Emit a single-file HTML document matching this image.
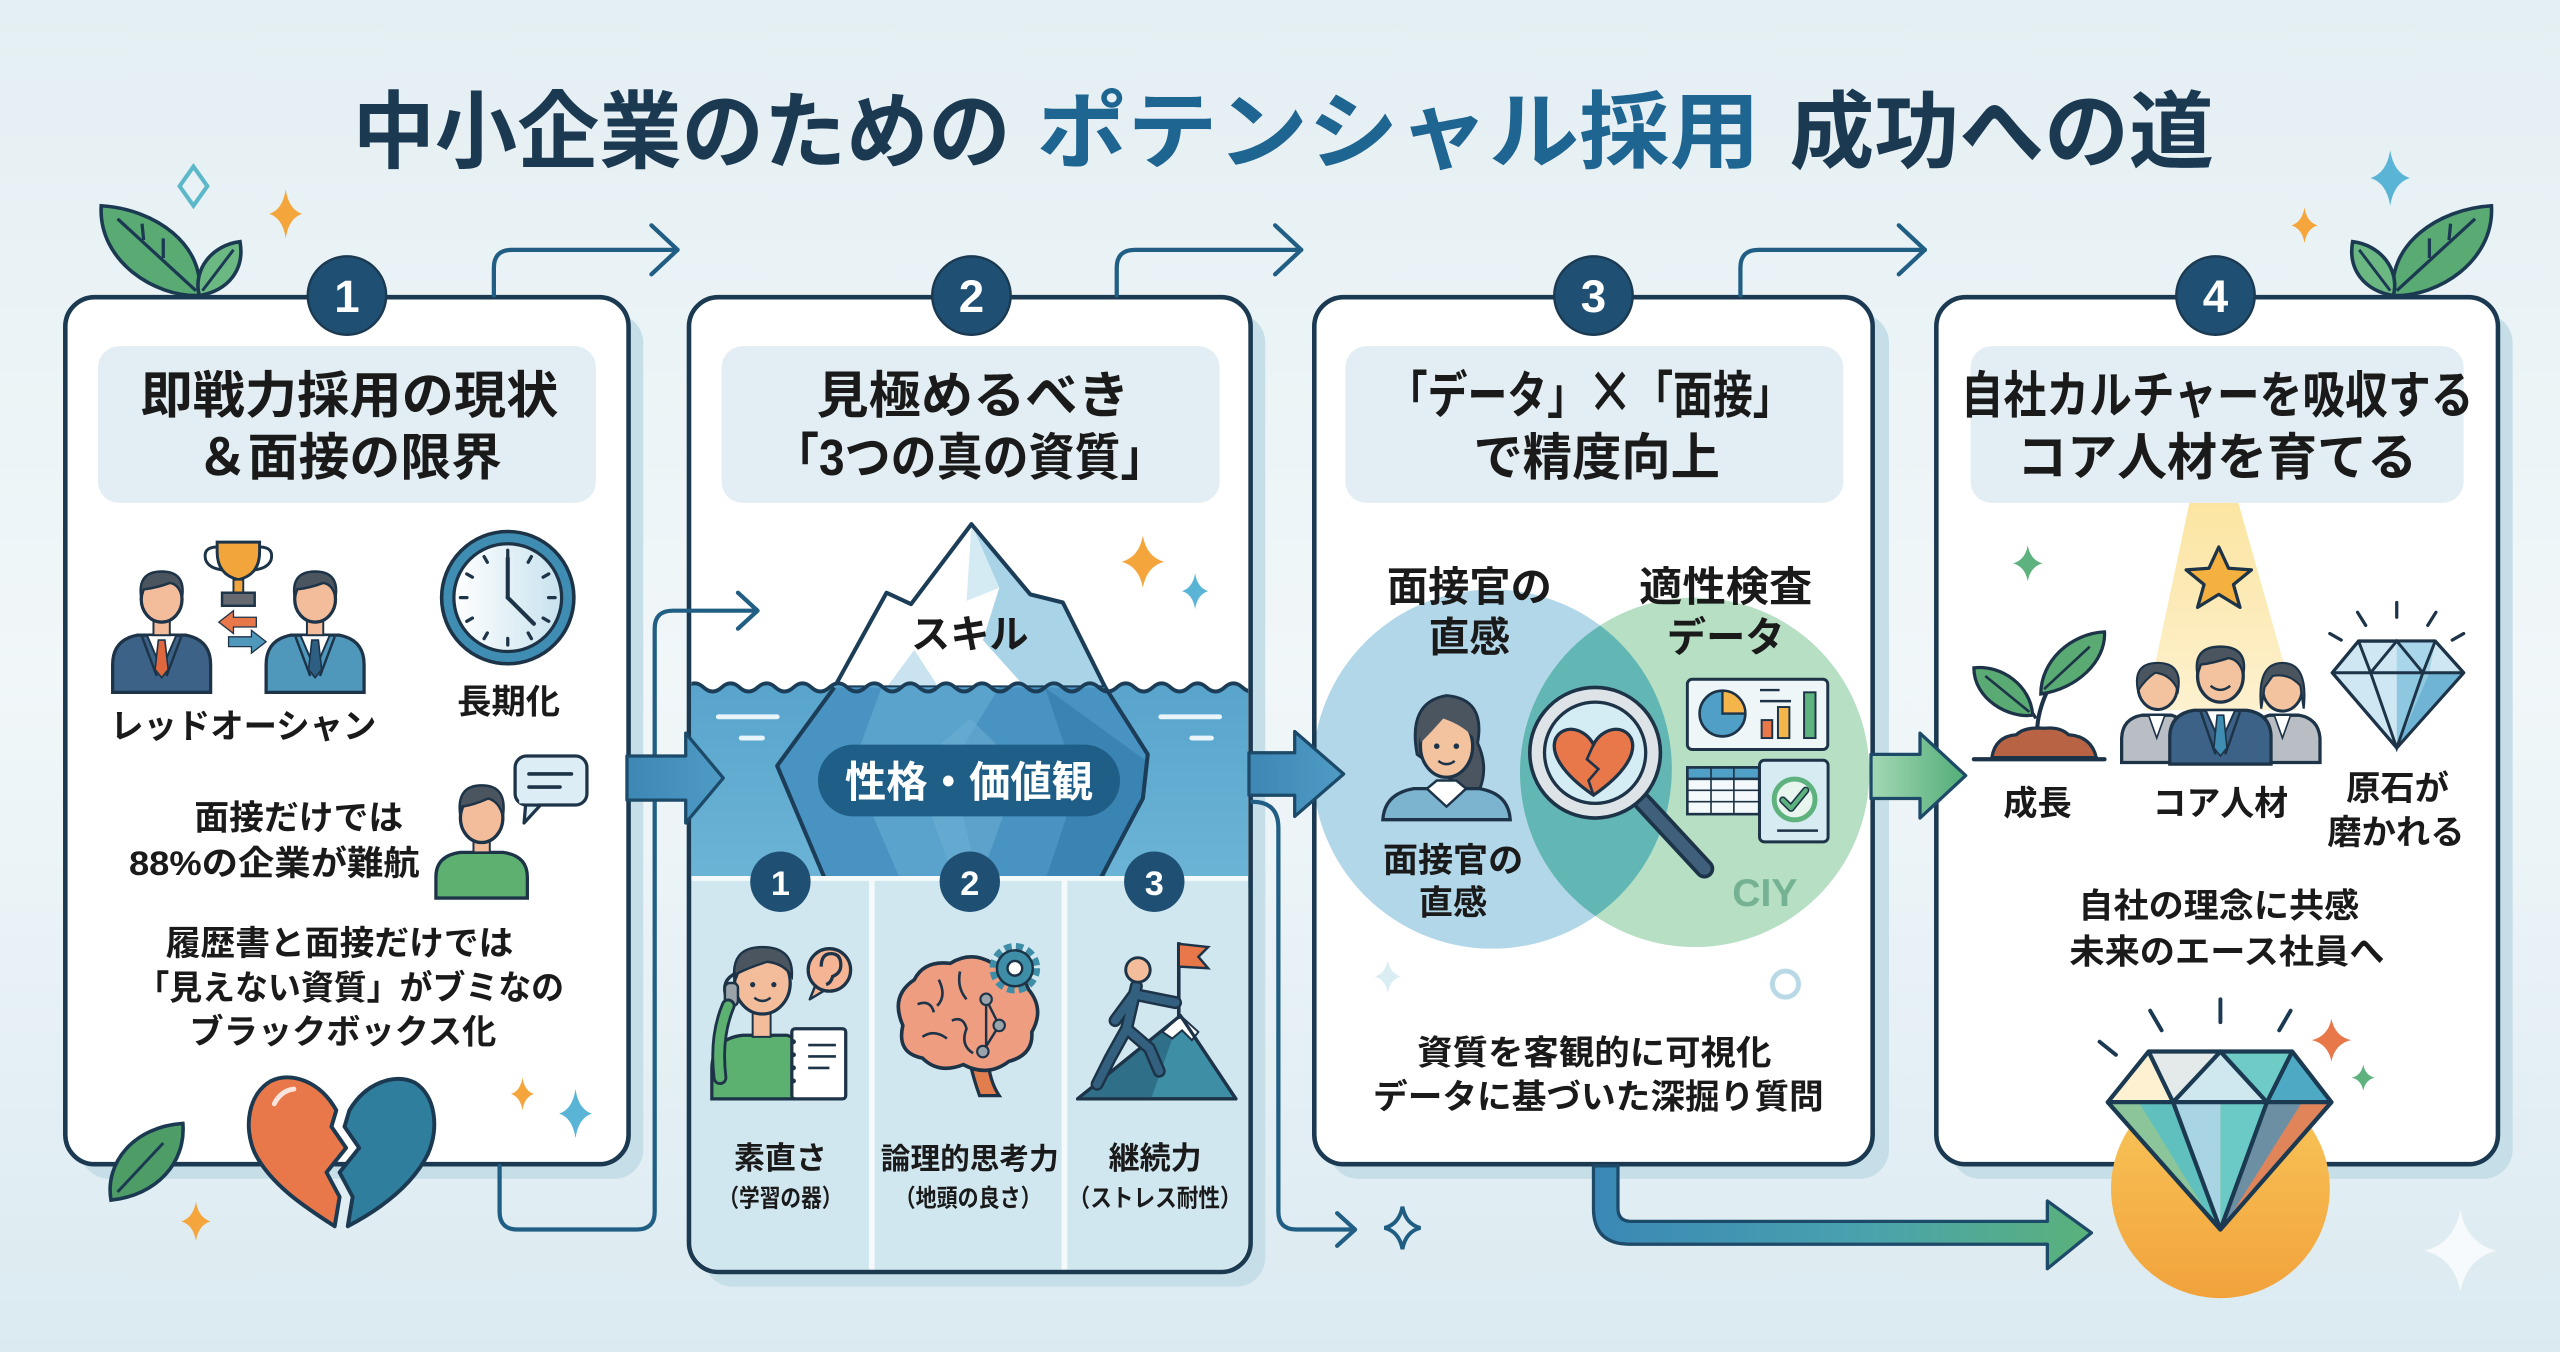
<!DOCTYPE html>
<html><head><meta charset="utf-8">
<style>
html,body{margin:0;padding:0;width:2560px;height:1352px;overflow:hidden;background:#eaf3f6;}
svg{display:block;}
text{font-family:"Liberation Sans","Noto Sans CJK JP",sans-serif;font-weight:700;}
</style></head><body>
<svg width="2560" height="1352" viewBox="0 0 1568 828" preserveAspectRatio="none" xmlns="http://www.w3.org/2000/svg">
<defs>
<linearGradient id="bg" x1="0" y1="0" x2="0" y2="1"><stop offset="0" stop-color="#e4eff3"/><stop offset=".5" stop-color="#f1f7f9"/><stop offset="1" stop-color="#dbeaf1"/></linearGradient>
<linearGradient id="water" x1="0" y1="0" x2="0" y2="1"><stop offset="0" stop-color="#58a4cc"/><stop offset="1" stop-color="#6db5d7"/></linearGradient>
<linearGradient id="arrB" x1="0" x2="1"><stop offset="0" stop-color="#3c87b3"/><stop offset="1" stop-color="#4f9bc6"/></linearGradient>
<linearGradient id="arrG" x1="0" x2="1"><stop offset="0" stop-color="#a3d8b5"/><stop offset="1" stop-color="#52ad77"/></linearGradient>
<linearGradient id="arrBG" x1="976" y1="0" x2="1281" y2="0" gradientUnits="userSpaceOnUse"><stop offset="0" stop-color="#3a88b6"/><stop offset=".55" stop-color="#4aa2ad"/><stop offset="1" stop-color="#5ab27a"/></linearGradient>
<linearGradient id="beam" x1="0" y1="0" x2="0" y2="1"><stop offset="0" stop-color="#fce5a2"/><stop offset="1" stop-color="#fdf1cf"/></linearGradient>
<linearGradient id="orb" x1="0" y1="0" x2="0" y2="1"><stop offset="0" stop-color="#f8c95c"/><stop offset="1" stop-color="#f2a23b"/></linearGradient>
<linearGradient id="face" x1="0" x2="1"><stop offset="0" stop-color="#ffffff"/><stop offset="1" stop-color="#c7e2ee"/></linearGradient>
<clipPath id="c2"><rect x="423.5" y="184.5" width="341" height="593" rx="17"/></clipPath>
<clipPath id="lc"><circle cx="914" cy="471" r="110"/></clipPath>
</defs>

<rect x="0" y="0" width="1568" height="828" fill="url(#bg)"/>

<!-- Title -->
<text x="216" y="99" font-size="52" fill="#1b3a52" textLength="403" lengthAdjust="spacingAndGlyphs">中小企業のための</text>
<text x="635" y="99" font-size="52" fill="#1f6591" textLength="443" lengthAdjust="spacingAndGlyphs">ポテンシャル採用</text>
<text x="1096" y="99" font-size="52" fill="#1b3a52" textLength="260" lengthAdjust="spacingAndGlyphs">成功への道</text>

<!-- decorations top -->
<polygon points="118.5,102 127,114 118.5,126 110,114" fill="none" stroke="#5bb8c9" stroke-width="2.5"/>
<path d="M175,116 Q176.8,128.3 185,131 Q176.8,133.7 175,146 Q173.2,133.7 165,131 Q173.2,128.3 175,116Z" fill="#f4a53c"/>
<path d="M1464,92 Q1466.2,105.9 1476,109 Q1466.2,112.1 1464,126 Q1461.8,112.1 1452,109 Q1461.8,105.9 1464,92Z" fill="#5ab4d6"/>
<path d="M1411.5,127 Q1412.9,136 1419.5,138 Q1412.9,140 1411.5,149 Q1410.1,140 1403.5,138 Q1410.1,136 1411.5,127Z" fill="#f4a53c"/>
<!-- leaves top-left -->
<path d="M122,181 C95,182 60,160 62,126 C95,128 126,150 122,181 Z" fill="#5aab73" stroke="#1b3a52" stroke-width="2.2"/>
<path d="M120,178 L72,134 M100,158 L100,146 M88,147 L87,137" stroke="#1b3a52" stroke-width="2" fill="none"/>
<path d="M122,181 C118,165 130,150 147,148 C150,165 140,178 122,181 Z" fill="#6cb883" stroke="#1b3a52" stroke-width="2.2"/>
<path d="M124,178 L143,153" stroke="#1b3a52" stroke-width="1.8"/>
<!-- leaves top-right -->
<path d="M1466,181 C1493,182 1528,160 1526,126 C1493,128 1462,150 1466,181 Z" fill="#5aab73" stroke="#1b3a52" stroke-width="2.2"/>
<path d="M1468,178 L1516,134 M1488,158 L1488,146 M1500,147 L1501,137" stroke="#1b3a52" stroke-width="2" fill="none"/>
<path d="M1466,181 C1470,165 1458,150 1441,148 C1438,165 1448,178 1466,181 Z" fill="#6cb883" stroke="#1b3a52" stroke-width="2.2"/>
<path d="M1464,178 L1445,153" stroke="#1b3a52" stroke-width="1.8"/>

<!-- card shadows -->
<rect x="49" y="192" width="345" height="530" rx="18" fill="#c6dee8"/>
<rect x="431" y="192" width="344" height="596" rx="18" fill="#c6dee8"/>
<rect x="814" y="192" width="343" height="530" rx="18" fill="#c6dee8"/>
<rect x="1195" y="192" width="344" height="530" rx="18" fill="#c6dee8"/>

<!-- cards -->
<rect x="40" y="182" width="345" height="531" rx="18" fill="#ffffff"/>
<rect x="422" y="182" width="344" height="597" rx="18" fill="#ffffff"/>
<rect x="805" y="182" width="342" height="531" rx="18" fill="#ffffff"/>
<rect x="1186" y="182" width="344" height="531" rx="18" fill="#ffffff"/>

<!-- heading boxes -->
<rect x="60" y="212" width="305" height="96" rx="13" fill="#e2eef3"/>
<rect x="442" y="212" width="305" height="96" rx="13" fill="#e2eef3"/>
<rect x="824" y="212" width="305" height="96" rx="13" fill="#e2eef3"/>
<rect x="1207" y="212" width="302" height="96" rx="13" fill="#e2eef3"/>

<g fill="#1a1a1a" text-anchor="middle" font-size="31">
<text x="214" y="253" textLength="256" lengthAdjust="spacingAndGlyphs">即戦力採用の現状</text>
<text x="214" y="291" textLength="187" lengthAdjust="spacingAndGlyphs">＆面接の限界</text>
<text x="596" y="253" textLength="192" lengthAdjust="spacingAndGlyphs">見極めるべき</text>
<text x="594" y="291" textLength="241" lengthAdjust="spacingAndGlyphs">「3つの真の資質」</text>
<text x="974" y="253" textLength="248" lengthAdjust="spacingAndGlyphs">「データ」<tspan font-family="Noto Sans CJK JP, sans-serif" font-size="36">×</tspan>「面接」</text>
<text x="978" y="291" textLength="151" lengthAdjust="spacingAndGlyphs">で精度向上</text>
<text x="1358" y="253" textLength="314" lengthAdjust="spacingAndGlyphs">自社カルチャーを吸収する</text>
<text x="1358" y="291" textLength="245" lengthAdjust="spacingAndGlyphs">コア人材を育てる</text>
</g>

<!-- ===== Card 1 content ===== -->
<path d="M133,335 Q124,335 126,343 Q128,348 136,349 M159,335 Q168,335 166,343 Q164,348 156,349" fill="none" stroke="#1d3347" stroke-width="1.8"/>
<path d="M133,332 H159 V338 Q159,352 146,355 Q133,352 133,338 Z" fill="#f2a53a" stroke="#1d3347" stroke-width="1.8"/>
<rect x="143" y="355" width="6" height="8" fill="#f2a53a" stroke="#1d3347" stroke-width="1.2"/>
<rect x="136" y="363" width="20" height="8" fill="#666a70" stroke="#1d3347" stroke-width="1.5"/>
<path d="M69,424 V407 Q69,392 84,389 L114,389 Q129,392 129,407 V424 Z" fill="#3d6287" stroke="#1d3347" stroke-width="2"/>
<path d="M90,389 L99,410 L108,389 Z" fill="#fff" stroke="#1d3347" stroke-width="1.2"/>
<path d="M97,392 L101,392 L103,410 L99,415 L95,410 Z" fill="#e0683f" stroke="#1d3347" stroke-width="1"/>
<path d="M87,390 L96,414 M111,390 L102,414" stroke="#1d3347" stroke-width="1.5" fill="none"/>
<rect x="94" y="378" width="10" height="11" fill="#f3bd9c" stroke="#1d3347" stroke-width="1.2"/>
<ellipse cx="99" cy="367" rx="12.5" ry="14" fill="#f3bd9c" stroke="#1d3347" stroke-width="2"/>
<path d="M86.5,366 Q84,350 99,350 Q114,350 111.5,366 Q110,358 104,357 Q96,360 88,361 Z" fill="#4b5560" stroke="#1d3347" stroke-width="1.5"/>
<path d="M163,424 V407 Q163,392 178,389 L208,389 Q223,392 223,407 V424 Z" fill="#4f97bb" stroke="#1d3347" stroke-width="2"/>
<path d="M184,389 L193,410 L202,389 Z" fill="#fff" stroke="#1d3347" stroke-width="1.2"/>
<path d="M191,392 L195,392 L197,410 L193,415 L189,410 Z" fill="#2d5f82" stroke="#1d3347" stroke-width="1"/>
<path d="M181,390 L190,414 M205,390 L196,414" stroke="#1d3347" stroke-width="1.5" fill="none"/>
<rect x="188" y="378" width="10" height="11" fill="#f3bd9c" stroke="#1d3347" stroke-width="1.2"/>
<ellipse cx="193" cy="367" rx="12.5" ry="14" fill="#f3bd9c" stroke="#1d3347" stroke-width="2"/>
<path d="M180.5,366 Q178,350 193,350 Q208,350 205.5,366 Q204,358 198,357 Q190,360 182,361 Z" fill="#4b5560" stroke="#1d3347" stroke-width="1.5"/>
<path d="M134,381 L143,374 V378 H157 V384 H143 V388 Z" fill="#e8774a" stroke="#1d3347" stroke-width="0.8"/>
<path d="M163,393 L154,386 V390 H140 V396 H154 V400 Z" fill="#4f97bb" stroke="#1d3347" stroke-width="0.8"/>
<circle cx="311" cy="366" r="40.5" fill="#3f8db3" stroke="#1d3347" stroke-width="2.2"/>
<circle cx="311" cy="366" r="33" fill="url(#face)" stroke="#1d3347" stroke-width="2"/>
<g transform="translate(311,366)" stroke="#1d3347" stroke-width="2" stroke-linecap="round">
<line y1="-29" y2="-25"/><line y1="-29" y2="-25" transform="rotate(30)"/><line y1="-29" y2="-25" transform="rotate(60)"/><line y1="-29" y2="-25" transform="rotate(90)"/><line y1="-29" y2="-25" transform="rotate(120)"/><line y1="-29" y2="-25" transform="rotate(150)"/><line y1="-29" y2="-25" transform="rotate(180)"/><line y1="-29" y2="-25" transform="rotate(210)"/><line y1="-29" y2="-25" transform="rotate(240)"/><line y1="-29" y2="-25" transform="rotate(270)"/><line y1="-29" y2="-25" transform="rotate(300)"/><line y1="-29" y2="-25" transform="rotate(330)"/>
<line x1="0" y1="0" x2="0" y2="-24" stroke-width="2.5"/><line x1="0" y1="0" x2="16" y2="16" stroke-width="2.5"/>
</g>
<g fill="#1a1a1a" text-anchor="middle" font-size="21">
<text x="149" y="452" textLength="163" lengthAdjust="spacingAndGlyphs">レッドオーシャン</text>
<text x="311.5" y="437">長期化</text>
<text x="183" y="508" textLength="128" lengthAdjust="spacingAndGlyphs">面接だけでは</text>
<text x="168" y="536" textLength="178" lengthAdjust="spacingAndGlyphs">88%の企業が難航</text>
<text x="208" y="585" textLength="213" lengthAdjust="spacingAndGlyphs">履歴書と面接だけでは</text>
<text x="214.5" y="612" textLength="262" lengthAdjust="spacingAndGlyphs">「見えない資質」がブミなの</text>
<text x="210" y="639" textLength="188" lengthAdjust="spacingAndGlyphs">ブラックボックス化</text>
</g>
<path d="M267,550 V537 Q267,524 282,522 L308,522 Q323,524 323,537 V550 Z" fill="#5db06f" stroke="#1d3347" stroke-width="2"/>
<rect x="290" y="512" width="10" height="10" fill="#f3bd9c" stroke="#1d3347" stroke-width="1.2"/>
<ellipse cx="295" cy="501" rx="13" ry="15" fill="#f3bd9c" stroke="#1d3347" stroke-width="2"/>
<path d="M282,500 Q279,481 295,481 Q311,481 308,500 Q306,491 299,489 Q290,493 283,494 Z" fill="#4b5560" stroke="#1d3347" stroke-width="1.5"/>
<path d="M322,492 L321,504 L332,492" fill="#dcedf5" stroke="#1d3347" stroke-width="2" stroke-linejoin="round"/>
<rect x="315.5" y="463" width="44" height="30" rx="7" fill="#dcedf5" stroke="#1d3347" stroke-width="2"/>
<rect x="318" y="489" width="12" height="3" fill="#dcedf5"/>
<line x1="324" y1="474" x2="350" y2="474" stroke="#1d3347" stroke-width="2.2" stroke-linecap="round"/>
<line x1="324" y1="482" x2="343" y2="482" stroke="#1d3347" stroke-width="2.2" stroke-linecap="round"/>
<path d="M320,660 Q321.3,668.2 327,670 Q321.3,671.8 320,680 Q318.7,671.8 313,670 Q318.7,668.2 320,660Z" fill="#f4a53c"/>
<path d="M352.5,667 Q354.3,679.3 362.5,682 Q354.3,684.7 352.5,697 Q350.7,684.7 342.5,682 Q350.7,679.3 352.5,667Z" fill="#5ab4d6"/>

<!-- ===== Card 2 content ===== -->
<g clip-path="url(#c2)">
<polygon points="511,421 543,363 558,370 595,321 631,364 651,369 677,421" fill="#ffffff"/>
<polygon points="595,321 612,360 602,392 628,421 677,421 651,369 631,364" fill="#a9d4e7"/>
<polygon points="595,321 592,368 612,360" fill="#d5ebf4"/>
<polygon points="543,421 560,398 575,421" fill="#c9e4f0"/>
<polygon points="600,421 612,404 628,421" fill="#ffffff"/>
<polygon points="511,421 543,363 558,370 595,321 631,364 651,369 677,421" fill="none" stroke="#1c3d57" stroke-width="2.5" stroke-linejoin="round"/>
<path d="M420,421 q5.5,-5 11,0 q5.5,5 11,0 q5.5,-5 11,0 q5.5,5 11,0 q5.5,-5 11,0 q5.5,5 11,0 q5.5,-5 11,0 q5.5,5 11,0 q5.5,-5 11,0 q5.5,5 11,0 q5.5,-5 11,0 q5.5,5 11,0 q5.5,-5 11,0 q5.5,5 11,0 q5.5,-5 11,0 q5.5,5 11,0 q5.5,-5 11,0 q5.5,5 11,0 q5.5,-5 11,0 q5.5,5 11,0 q5.5,-5 11,0 q5.5,5 11,0 q5.5,-5 11,0 q5.5,5 11,0 q5.5,-5 11,0 q5.5,5 11,0 q5.5,-5 11,0 q5.5,5 11,0 q5.5,-5 11,0 q5.5,5 11,0 q5.5,-5 11,0 q5.5,5 11,0 L772,545 L420,545 Z" fill="url(#water)"/>
<polygon points="511,421 476,469 506,540 673,540 700,489 703,462 677,421" fill="#4893c1"/>
<polygon points="540,421 522,470 552,540 600,540 582,470 612,421" fill="#5ea7cf" opacity=".8"/>
<polygon points="640,421 702,466 698,492 675,540 640,540 660,480" fill="#3a84b3"/>
<polygon points="560,470 594,440 625,470 600,540 585,540" fill="#6fb1d4" opacity=".5"/>
<path d="M511,421 L476,469 L506,540 M677,421 L703,462 L700,489 L673,540" fill="none" stroke="#1c3d57" stroke-width="2.5" stroke-linejoin="round"/>
<path d="M420,421 q5.5,-5 11,0 q5.5,5 11,0 q5.5,-5 11,0 q5.5,5 11,0 q5.5,-5 11,0 q5.5,5 11,0 q5.5,-5 11,0 q5.5,5 11,0 q5.5,-5 11,0 q5.5,5 11,0 q5.5,-5 11,0 q5.5,5 11,0 q5.5,-5 11,0 q5.5,5 11,0 q5.5,-5 11,0 q5.5,5 11,0 q5.5,-5 11,0 q5.5,5 11,0 q5.5,-5 11,0 q5.5,5 11,0 q5.5,-5 11,0 q5.5,5 11,0 q5.5,-5 11,0 q5.5,5 11,0 q5.5,-5 11,0 q5.5,5 11,0 q5.5,-5 11,0 q5.5,5 11,0 q5.5,-5 11,0 q5.5,5 11,0 q5.5,-5 11,0 q5.5,5 11,0" fill="none" stroke="#1c3d57" stroke-width="2.3"/>
<g stroke="#e9f5fa" stroke-width="3" stroke-linecap="round">
<line x1="440" y1="439" x2="476" y2="439"/><line x1="454" y1="452" x2="467" y2="452"/>
<line x1="711" y1="439" x2="747" y2="439"/><line x1="730" y1="452" x2="742" y2="452"/>
</g>
<rect x="420" y="538" width="350" height="245" fill="#d0e7f0"/>
<line x1="420" y1="538" x2="770" y2="538" stroke="#f4fafc" stroke-width="3"/>
<line x1="534" y1="538" x2="534" y2="780" stroke="#f4fafc" stroke-width="3.5"/>
<line x1="652" y1="538" x2="652" y2="780" stroke="#f4fafc" stroke-width="3.5"/>
</g>
<rect x="501" y="456" width="185" height="44" rx="22" fill="#1f5f87"/>
<text x="593.5" y="488" font-size="26" fill="#ffffff" text-anchor="middle" textLength="152" lengthAdjust="spacingAndGlyphs">性格・価値観</text>
<text x="594" y="397" font-size="24" fill="#1a1a1a" text-anchor="middle">スキル</text>
<g fill="#1f5074"><circle cx="478" cy="540" r="18.5"/><circle cx="594" cy="540" r="18.5"/><circle cx="707" cy="540" r="18.5"/></g>
<g fill="#ffffff" font-size="21" text-anchor="middle"><text x="478" y="548">1</text><text x="594" y="548">2</text><text x="707" y="548">3</text></g>
<path d="M436,673 V655 Q436,636 455,634 L482,634 Q490,636 490,650 V673 Z" fill="#5cb070" stroke="#1d3347" stroke-width="2"/>
<rect x="461" y="617" width="11" height="18" fill="#f3bd9c" stroke="#1d3347" stroke-width="1.2"/>
<ellipse cx="467" cy="602" rx="17" ry="19" fill="#f3bd9c" stroke="#1d3347" stroke-width="2"/>
<path d="M450,601 Q447,580 467,580 Q486,580 485,598 Q480,590 470,589 Q460,592 452,596 Z" fill="#4b5560" stroke="#1d3347" stroke-width="1.5"/>
<circle cx="461" cy="603" r="1.6" fill="#1d3347"/><circle cx="474" cy="603" r="1.6" fill="#1d3347"/>
<path d="M462,611 Q467,615 472,611" stroke="#1d3347" stroke-width="1.5" fill="none"/>
<path d="M445,612 Q441,600 451,596" stroke="#1d3347" stroke-width="2" fill="none"/>
<rect x="444" y="602" width="8" height="14" rx="3" fill="#9aa3aa" stroke="#1d3347" stroke-width="1.5"/>
<path d="M441,660 Q438,635 446,616" stroke="#1d3347" stroke-width="9" fill="none" stroke-linecap="round"/>
<path d="M441,660 Q438,635 446,616" stroke="#5cb070" stroke-width="5.5" fill="none" stroke-linecap="round"/>
<rect x="485" y="630" width="33" height="43" rx="2" fill="#ffffff" stroke="#1d3347" stroke-width="2"/>
<g stroke="#1d3347" stroke-width="1.6"><line x1="495" y1="640" x2="512" y2="640"/><line x1="495" y1="647" x2="512" y2="647"/><line x1="495" y1="654" x2="508" y2="654"/></g>
<g fill="#1d3347"><circle cx="486" cy="638" r="1.5"/><circle cx="486" cy="646" r="1.5"/><circle cx="486" cy="654" r="1.5"/><circle cx="486" cy="662" r="1.5"/></g>
<path d="M500,602 L496,612 L506,606 Z" fill="#f5b594" stroke="#1d3347" stroke-width="1.5" stroke-linejoin="round"/>
<circle cx="508" cy="594" r="13" fill="#f5b594" stroke="#1d3347" stroke-width="2"/>
<path d="M503,592 Q503,584 509,584 Q515,584 515,591 Q515,596 510,598 Q509,602 506,603" stroke="#1d3347" stroke-width="2" fill="none"/>
<path d="M605,648 Q606,662 612,671 L600,671 Q596,660 594,650 Z" fill="#e27d4e" stroke="#1d3347" stroke-width="2"/>
<path d="M553,628 Q545,610 560,600 Q566,588 582,590 Q595,582 608,590 Q625,592 630,606 Q640,618 632,632 Q633,646 618,650 Q605,660 590,652 Q575,658 565,648 Q549,645 553,628 Z" fill="#ef9d80" stroke="#1d3347" stroke-width="2.2"/>
<path d="M562,615 Q570,612 572,620 M575,600 Q580,610 574,616 M565,635 Q572,630 580,636 M588,595 Q586,605 592,612 M583,625 Q590,622 592,630 Q588,640 596,645" stroke="#1d3347" stroke-width="1.6" fill="none"/>
<g stroke="#1d3347" stroke-width="1.5"><line x1="604" y1="612" x2="612" y2="628"/><line x1="612" y1="628" x2="602" y2="644"/><line x1="604" y1="612" x2="604" y2="644"/></g>
<g fill="#9aa3aa" stroke="#1d3347" stroke-width="1.3"><circle cx="604" cy="612" r="3.5"/><circle cx="612" cy="628" r="3.5"/><circle cx="602" cy="644" r="3.5"/></g>
<circle cx="621.6" cy="593" r="12.5" fill="none" stroke="#3e8ea8" stroke-width="6" stroke-dasharray="4.2 2.4"/>
<circle cx="621.6" cy="593" r="11" fill="#3e8ea8" stroke="#1d3347" stroke-width="1.5"/>
<circle cx="621.6" cy="593" r="4.5" fill="#ffffff" stroke="#1d3347" stroke-width="1.5"/>
<polygon points="660,673 723,622 757,673" fill="#3e8ea6" stroke="#1d3347" stroke-width="2" stroke-linejoin="round"/>
<polygon points="660,673 723,622 705,673" fill="#2f7088"/>
<polygon points="723,622 712,632 718,636 724,631 730,637 734,632" fill="#ffffff" stroke="#1d3347" stroke-width="1.2"/>
<polygon points="660,673 723,622 757,673" fill="none" stroke="#1d3347" stroke-width="2" stroke-linejoin="round"/>
<line x1="722" y1="577" x2="722" y2="624" stroke="#1d3347" stroke-width="2.2"/>
<polygon points="722,578 740,580 734,586 740,593 722,592" fill="#e8784a" stroke="#1d3347" stroke-width="1.5"/>
<g stroke="#1d3347" stroke-width="8" fill="none" stroke-linecap="round" stroke-linejoin="round">
<path d="M696,604 L690,630 L680,648 L672,664"/><path d="M690,630 L704,642 L710,656"/><path d="M695,609 L720,614"/><path d="M694,610 L683,625"/></g>
<g stroke="#34607f" stroke-width="5" fill="none" stroke-linecap="round" stroke-linejoin="round">
<path d="M696,604 L690,630 L680,648 L672,664"/><path d="M690,630 L704,642 L710,656"/><path d="M695,609 L720,614"/><path d="M694,610 L683,625"/></g>
<circle cx="697" cy="594" r="7.5" fill="#f3bd9c" stroke="#1d3347" stroke-width="1.8"/>
<path d="M700,328 Q702.3,341.1 713,344 Q702.3,346.9 700,360 Q697.7,346.9 687,344 Q697.7,341.1 700,328Z" fill="#f4a53c"/>
<path d="M732,351 Q733.4,360 740,362 Q733.4,364 732,373 Q730.6,364 724,362 Q730.6,360 732,351Z" fill="#5ab4d6"/>
<g fill="#1a1a1a" text-anchor="middle">
<text x="478" y="716" font-size="19">素直さ</text>
<text x="478" y="739" font-size="15" textLength="76" lengthAdjust="spacingAndGlyphs">（学習の器）</text>
<text x="594" y="716" font-size="18" textLength="109" lengthAdjust="spacingAndGlyphs">論理的思考力</text>
<text x="593" y="739" font-size="15" textLength="90" lengthAdjust="spacingAndGlyphs">（地頭の良さ）</text>
<text x="707.5" y="716" font-size="19">継続力</text>
<text x="707.5" y="739" font-size="15" textLength="106" lengthAdjust="spacingAndGlyphs">（ストレス耐性）</text>
</g>

<!-- ===== Card 3 content ===== -->
<circle cx="914" cy="471" r="110" fill="#b2d7e9"/>
<circle cx="1038" cy="473" r="107" fill="#b6dfc4"/>
<circle cx="1038" cy="473" r="107" fill="#62b6b3" clip-path="url(#lc)"/>
<g fill="#1a1a1a" text-anchor="middle" font-size="25">
<text x="900" y="368" textLength="101" lengthAdjust="spacingAndGlyphs">面接官の</text>
<text x="900" y="399">直感</text>
<text x="1057" y="368" textLength="106" lengthAdjust="spacingAndGlyphs">適性検査</text>
<text x="1057" y="399" textLength="72" lengthAdjust="spacingAndGlyphs">データ</text>
</g>
<path d="M868,462 Q862,430 886,426 Q910,428 905,455 Q912,470 906,484 L898,484 Z" fill="#4b5560" stroke="#1d3347" stroke-width="1.8"/>
<path d="M847,502 Q848,486 866,483 L906,483 Q924,486 925,502 Z" fill="#7cb3cf" stroke="#1d3347" stroke-width="2"/>
<path d="M874,483 L886,494 L898,483 L892,478 L880,478 Z" fill="#ffffff" stroke="#1d3347" stroke-width="1.5"/>
<ellipse cx="886" cy="457" rx="16" ry="19" fill="#f3c3a0" stroke="#1d3347" stroke-width="2"/>
<path d="M870,455 Q868,432 888,432 Q904,433 903,452 Q896,444 884,440 Q877,448 870,455 Z" fill="#4b5560"/>
<circle cx="880" cy="457" r="1.7" fill="#1d3347"/><circle cx="892" cy="457" r="1.7" fill="#1d3347"/>
<path d="M881,466 Q886,470 891,466" stroke="#1d3347" stroke-width="1.5" fill="none"/>
<g fill="#1a1a1a" text-anchor="middle" font-size="21">
<text x="890" y="534" textLength="86" lengthAdjust="spacingAndGlyphs">面接官の</text>
<text x="890" y="560">直感</text>
</g>
<line x1="1006" y1="491" x2="1044" y2="532" stroke="#1d3347" stroke-width="12" stroke-linecap="round"/>
<line x1="1006" y1="491" x2="1044" y2="532" stroke="#3f5f7a" stroke-width="7.5" stroke-linecap="round"/>
<circle cx="977" cy="461" r="40" fill="#dde3e6" stroke="#1d3347" stroke-width="2.2"/>
<circle cx="977" cy="461" r="31" fill="#d4ecf4" stroke="#1d3347" stroke-width="2"/>
<path d="M976,456 C971,446 958,443 953,452 C949,461 957,474 976,487 C995,474 1003,461 999,452 C994,443 981,446 976,456 Z" fill="#e8774a" stroke="#1d3347" stroke-width="2"/>
<path d="M976,456 L972,465 L979,471 L973,478 L976,487" stroke="#1d3347" stroke-width="1.6" fill="none"/>
<rect x="1033.5" y="416" width="86" height="43" rx="3" fill="#eef6f8" stroke="#1d3347" stroke-width="1.8"/>
<circle cx="1055" cy="437" r="14" fill="#4f9fc6" stroke="#1d3347" stroke-width="1.6"/>
<path d="M1055,437 V423 A14,14 0 0 1 1069,437 Z" fill="#f4b54a" stroke="#1d3347" stroke-width="1.4"/>
<g stroke="#1d3347" stroke-width="1.5"><line x1="1078" y1="422.6" x2="1090" y2="422.6"/><line x1="1078" y1="429.4" x2="1097" y2="429.4"/></g>
<rect x="1079" y="441" width="6.5" height="11" fill="#e8784a" stroke="#1d3347" stroke-width="1.2"/>
<rect x="1089" y="433" width="7" height="19" fill="#f4b54a" stroke="#1d3347" stroke-width="1.2"/>
<rect x="1105" y="424" width="7" height="28" fill="#5db27d" stroke="#1d3347" stroke-width="1.2"/>
<rect x="1033.5" y="470" width="44" height="28.6" fill="#f4fafb" stroke="#1d3347" stroke-width="1.6"/>
<rect x="1033.5" y="470" width="44" height="7" fill="#4f9fc6" stroke="#1d3347" stroke-width="1.6"/>
<g stroke="#1d3347" stroke-width="1"><line x1="1033.5" y1="484" x2="1077.5" y2="484"/><line x1="1033.5" y1="491" x2="1077.5" y2="491"/><line x1="1048" y1="470" x2="1048" y2="498.6"/><line x1="1062" y1="470" x2="1062" y2="498.6"/></g>
<rect x="1077.7" y="465.6" width="42" height="50" rx="3" fill="#d7ebf2" stroke="#1d3347" stroke-width="1.8"/>
<circle cx="1099.2" cy="489.6" r="12.5" fill="#e8f5ee" stroke="#5db27d" stroke-width="3"/>
<path d="M1092,490 L1097,495 L1106,484" stroke="#1d3347" stroke-width="4.5" fill="none" stroke-linecap="round" stroke-linejoin="round"/>
<path d="M1092,490 L1097,495 L1106,484" stroke="#5db27d" stroke-width="2.6" fill="none" stroke-linecap="round" stroke-linejoin="round"/>
<line x1="1088.5" y1="508.7" x2="1113.5" y2="508.7" stroke="#1d3347" stroke-width="1.6"/>
<text x="1081" y="555" font-size="24" fill="#6aa98b" fill-opacity=".85" text-anchor="middle">CIY</text>
<path d="M850,588 Q851.4,596.2 858,598 Q851.4,599.8 850,608 Q848.6,599.8 842,598 Q848.6,596.2 850,588Z" fill="#d9edf3"/>
<circle cx="1093.6" cy="602.7" r="8" fill="none" stroke="#b9d9e6" stroke-width="3"/>
<g fill="#1a1a1a" text-anchor="middle" font-size="21">
<text x="976.5" y="652" textLength="217" lengthAdjust="spacingAndGlyphs">資質を客観的に可視化</text>
<text x="979" y="679" textLength="276" lengthAdjust="spacingAndGlyphs">データに基づいた深掘り質問</text>
</g>

<!-- ===== Card 4 content ===== -->
<polygon points="1341,308 1371,308 1407,435 1314,435" fill="url(#beam)"/>
<path d="M1359,335 L1365,348 L1379,349 L1368,358 L1372,372 L1359,364 L1346,372 L1350,358 L1339,349 L1353,348 Z" fill="#f5b13f" stroke="#1d3347" stroke-width="2" stroke-linejoin="round"/>
<path d="M1242,334 Q1243.6,343 1251,345 Q1243.6,347 1242,356 Q1240.4,347 1233,345 Q1240.4,343 1242,334Z" fill="#5db27d"/>
<path d="M1248,452 Q1246,432 1264,406" stroke="#1d3347" stroke-width="2.5" fill="none"/>
<path d="M1247,440 Q1240,428 1230,422" stroke="#1d3347" stroke-width="2" fill="none"/>
<path d="M1245,438 C1230,440 1209,428 1209,409 C1226,407 1244,420 1245,438 Z" fill="#5aab73" stroke="#1d3347" stroke-width="2"/>
<path d="M1250,425 C1250,405 1268,388 1289,387 C1290,405 1272,422 1250,425 Z" fill="#5aab73" stroke="#1d3347" stroke-width="2"/>
<path d="M1252,422 L1280,396" stroke="#1d3347" stroke-width="1.6"/>
<path d="M1243,436 L1216,414" stroke="#1d3347" stroke-width="1.6"/>
<path d="M1220,464 Q1222,451 1235,450 Q1240,445 1252,446 Q1262,445 1267,450 Q1281,451 1284,464 Z" fill="#b86444" stroke="#1d3347" stroke-width="2"/>
<line x1="1209" y1="465" x2="1289" y2="465" stroke="#1d3347" stroke-width="2.6" stroke-linecap="round"/>
<path d="M1299.5,467 V452 Q1300,440 1312,438 L1330,438 Q1338,440 1338,452 V467 Z" fill="#b9bec4" stroke="#1d3347" stroke-width="2"/>
<path d="M1316,438 L1321,452 L1326,438 Z" fill="#fff" stroke="#1d3347" stroke-width="1"/>
<ellipse cx="1321.6" cy="421" rx="12" ry="13.5" fill="#f3c3a0" stroke="#1d3347" stroke-width="1.8"/>
<path d="M1309.5,423 Q1306,406 1321.6,406 Q1337,406 1334,423 Q1330,413 1320,412 Q1314,416 1309.5,423 Z" fill="#4b5560" stroke="#1d3347" stroke-width="1.3"/>
<path d="M1421,467 V452 Q1420,440 1408,438 L1390,438 Q1382,440 1382,452 V467 Z" fill="#b9bec4" stroke="#1d3347" stroke-width="2"/>
<path d="M1393,438 L1398,452 L1403,438 Z" fill="#fff" stroke="#1d3347" stroke-width="1"/>
<ellipse cx="1398" cy="422" rx="12" ry="13.5" fill="#f3c3a0" stroke="#1d3347" stroke-width="1.8"/>
<path d="M1385,434 Q1382,406 1398,406 Q1414,406 1411,434 L1409,420 Q1402,412 1392,414 L1387,421 Z" fill="#4b5560" stroke="#1d3347" stroke-width="1.3"/>
<path d="M1329,468 V450 Q1330,437 1344,435 L1376,435 Q1390,437 1391,450 V468 Z" fill="#3c6287" stroke="#1d3347" stroke-width="2"/>
<path d="M1351,435 L1360,455 L1369,435 Z" fill="#fff" stroke="#1d3347" stroke-width="1.2"/>
<path d="M1358,438 L1362,438 L1364,458 L1360,463 L1356,458 Z" fill="#3f8db3" stroke="#1d3347" stroke-width="1"/>
<path d="M1348,436 L1357,462 M1372,436 L1363,462" stroke="#1d3347" stroke-width="1.5" fill="none"/>
<ellipse cx="1360" cy="414" rx="14" ry="16" fill="#f3c3a0" stroke="#1d3347" stroke-width="2"/>
<path d="M1346,413 Q1343,396 1360,396 Q1377,396 1374,413 Q1372,404 1365,403 Q1356,406 1348,407 Z" fill="#4b5560" stroke="#1d3347" stroke-width="1.5"/>
<path d="M1354,420 Q1360,425 1366,420" stroke="#1d3347" stroke-width="1.5" fill="none"/>
<polygon points="1444.6,392.6 1491.6,392.6 1509,412 1468,458 1428.5,412" fill="#cfe7f2" stroke="#1d3347" stroke-width="2" stroke-linejoin="round"/>
<polygon points="1468,412 1488,412 1468,458" fill="#8ec8e0"/>
<polygon points="1488,412 1509,412 1468,458" fill="#6fb4d4"/>
<polygon points="1468,392.6 1491.6,392.6 1488,412 1468,412" fill="#a9d6ea"/>
<g stroke="#1d3347" stroke-width="1.8" fill="none">
<polygon points="1444.6,392.6 1491.6,392.6 1509,412 1468,458 1428.5,412" stroke-linejoin="round"/>
<line x1="1428.5" y1="412" x2="1509" y2="412"/>
<path d="M1444.6,392.6 L1452,412 L1468,392.6 L1484,412 L1491.6,392.6"/>
<path d="M1452,412 L1468,458 L1484,412"/>
</g>
<g stroke="#1d3347" stroke-width="2" stroke-linecap="round">
<line x1="1468" y1="369" x2="1468" y2="378"/><line x1="1444" y1="375" x2="1449" y2="383"/><line x1="1492" y1="375" x2="1487" y2="383"/><line x1="1427" y1="388" x2="1434" y2="392"/><line x1="1509" y1="388" x2="1502" y2="392"/>
</g>
<g fill="#1a1a1a" text-anchor="middle" font-size="21">
<text x="1248" y="499">成長</text>
<text x="1360" y="499" textLength="83" lengthAdjust="spacingAndGlyphs">コア人材</text>
<text x="1468.5" y="490">原石が</text>
<text x="1467.5" y="517" textLength="84" lengthAdjust="spacingAndGlyphs">磨かれる</text>
<text x="1359" y="562" textLength="172" lengthAdjust="spacingAndGlyphs">自社の理念に共感</text>
<text x="1364" y="590" textLength="193" lengthAdjust="spacingAndGlyphs">未来のエース社員へ</text>
</g>

<!-- card borders -->
<g fill="none" stroke="#1b3a52" stroke-width="2.8">
<rect x="40" y="182" width="345" height="531" rx="18"/>
<rect x="422" y="182" width="344" height="597" rx="18"/>
<rect x="805" y="182" width="342" height="531" rx="18"/>
<rect x="1186" y="182" width="344" height="531" rx="18"/>
</g>

<!-- badges -->
<g fill="#1f5074" stroke="#1b3a52" stroke-width="1.5">
<circle cx="212.5" cy="181" r="24"/><circle cx="595" cy="181" r="24"/><circle cx="976" cy="181" r="24"/><circle cx="1357" cy="181" r="24"/>
</g>
<g fill="#ffffff" font-size="28" text-anchor="middle">
<text x="212.5" y="191">1</text><text x="595" y="191">2</text><text x="976" y="191">3</text><text x="1357" y="191">4</text>
</g>

<!-- thin connectors -->
<g fill="none" stroke="#205e84" stroke-width="2.6" stroke-linecap="round" stroke-linejoin="round">
<path d="M302.5,181 V164 Q302.5,153 313.5,153 H415"/><path d="M399,138 L415,153 L399,168"/>
<path d="M684,181 V164 Q684,153 695,153 H797"/><path d="M781,138 L797,153 L781,168"/>
<path d="M1066,181 V164 Q1066,153 1077,153 H1179"/><path d="M1163,138 L1179,153 L1163,168"/>
<path d="M306,714 V742 Q306,753 317,753 H390 Q401,753 401,742 V385 Q401,374 412,374 H463"/><path d="M452,363 L464,374 L452,385"/>
<path d="M767,491 Q783,491 783,507 V742 Q783,753 794,753 H829"/><path d="M819,743 L830,753 L819,763"/>
</g>
<path d="M859,739 Q861,749.7 870,752 Q861,754.3 859,765 Q857,754.3 848,752 Q857,749.7 859,739Z" fill="none" stroke="#1f5d82" stroke-width="2.4"/>

<!-- big arrows -->
<path d="M384,463 H420 V449 L443,476.5 L420,504 V490 H384 Z" fill="url(#arrB)" stroke="#1c4a68" stroke-width="2" stroke-linejoin="round"/>
<path d="M765,461 H793 V448 L823,474 L793,500 V487 H765 Z" fill="url(#arrB)" stroke="#1c4a68" stroke-width="2" stroke-linejoin="round"/>
<path d="M1146,462 H1176 V449 L1204,475 L1176,501 V489 H1146 Z" fill="url(#arrG)" stroke="#1c4a68" stroke-width="2" stroke-linejoin="round"/>

<!-- bottom thick arrow -->
<path d="M976,714 V740 Q976,762 998,762 H1254 V777 L1281,755 L1254,735.5 V748 H999 Q991,748 991,740 V714 Z" fill="url(#arrBG)" stroke="#1c4a68" stroke-width="2" stroke-linejoin="round"/>

<!-- big diamond -->
<circle cx="1360" cy="728" r="67" fill="url(#orb)"/>
<polygon points="1291,675 1316,644 1331,675" fill="#fdf1d2"/>
<polygon points="1316,644 1360,644 1331,675" fill="#e4e9e9"/>
<polygon points="1331,675 1360,644 1388.5,675" fill="#cfe8ef"/>
<polygon points="1360,644 1404,644 1388.5,675" fill="#6ecbc6"/>
<polygon points="1404,644 1428,675 1388.5,675" fill="#4ea9c4"/>
<polygon points="1291,675 1331,675 1360,753" fill="#5fc0bd"/>
<polygon points="1291,675 1310,675 1350,740" fill="#8cc59a"/>
<polygon points="1331,675 1360,675 1360,753" fill="#a8d4e4"/>
<polygon points="1360,675 1388.5,675 1360,753" fill="#6ccac6"/>
<polygon points="1388.5,675 1428,675 1360,753" fill="#6c8fa4"/>
<polygon points="1410,675 1428,675 1366,745" fill="#e0855a"/>
<g fill="none" stroke="#1b3a52" stroke-width="2.6" stroke-linejoin="round">
<polygon points="1316,644 1404,644 1428,675 1360,753 1291,675"/>
<line x1="1291" y1="675" x2="1428" y2="675"/>
<path d="M1316,644 L1331,675 L1360,644 L1388.5,675 L1404,644"/>
<path d="M1331,675 L1360,753 L1388.5,675"/>
</g>
<g stroke="#1b3a52" stroke-width="2.4" stroke-linecap="round">
<line x1="1360" y1="612" x2="1360" y2="626"/><line x1="1317" y1="619" x2="1324" y2="631"/><line x1="1403" y1="619" x2="1396" y2="631"/><line x1="1286" y1="638" x2="1296" y2="646"/>
</g>
<path d="M1428,624 Q1430.2,634.7 1440,637 Q1430.2,639.3 1428,650 Q1425.8,639.3 1416,637 Q1425.8,634.7 1428,624Z" fill="#e8784a"/>
<path d="M1447.5,652 Q1448.8,658.6 1454.5,660 Q1448.8,661.4 1447.5,668 Q1446.2,661.4 1440.5,660 Q1446.2,658.6 1447.5,652Z" fill="#5db27d"/>

<!-- card1 bottom decorations -->
<path d="M206,680 C196,662 178,656 166,662 C152,670 149,690 156,706 C166,726 188,740 205,751 L208,733 L200,718 L212,703 L203,690 Z" fill="#e8774a" stroke="#1b3a52" stroke-width="2.4" stroke-linejoin="round"/>
<path d="M214,680 C224,663 242,657 254,663 C267,671 269,691 262,707 C252,727 232,741 213,751 L216,733 L208,718 L220,703 L211,690 Z" fill="#2f7e9e" stroke="#1b3a52" stroke-width="2.4" stroke-linejoin="round"/>
<path d="M168,676 Q172,668 180,667" stroke="#ffffff" stroke-width="3" fill="none" stroke-linecap="round" opacity=".8"/>
<path d="M68,735 C64,712 82,690 112,688 C114,712 96,732 68,735 Z" fill="#4e9d67" stroke="#1b3a52" stroke-width="2.2"/>
<path d="M72,730 L100,700" stroke="#1b3a52" stroke-width="1.8"/>
<path d="M120,736 Q121.6,745.8 129,748 Q121.6,750.2 120,760 Q118.4,750.2 111,748 Q118.4,745.8 120,736Z" fill="#f4a53c"/>
<path d="M1507,741 Q1511,761.5 1529,766 Q1511,770.5 1507,791 Q1503,770.5 1485,766 Q1503,761.5 1507,741Z" fill="#ffffff" opacity=".75"/>
</svg>
</body></html>
